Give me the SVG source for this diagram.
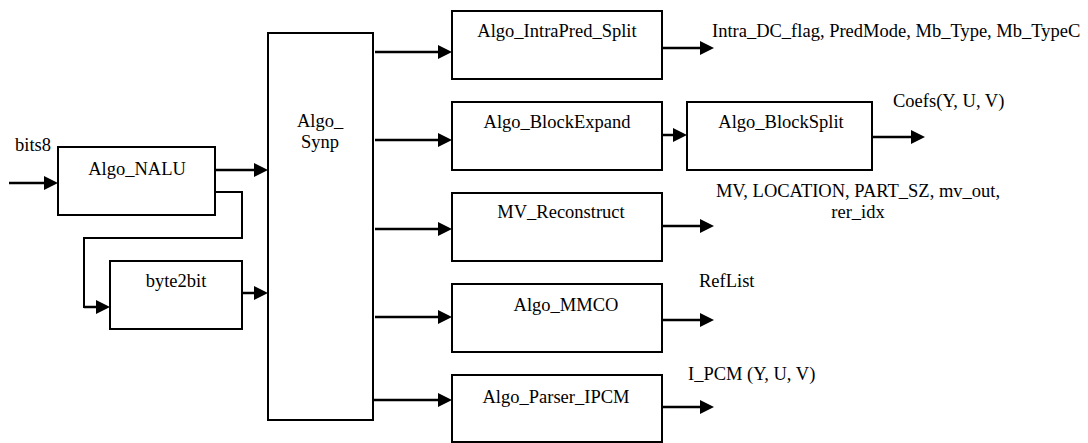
<svg xmlns="http://www.w3.org/2000/svg" width="1088" height="443" viewBox="0 0 1088 443">
<style>
.box{fill:#fff;stroke:#000;stroke-width:2}
.t{font-family:'Liberation Serif','Times New Roman','DejaVu Serif',serif;font-size:18.5px;fill:#000}
.c{text-anchor:middle}
.a{fill:none;stroke:#000;stroke-width:2.5;marker-end:url(#ah)}
.w{fill:none;stroke:#000;stroke-width:2}
</style>
<defs>
<marker id="ah" markerUnits="userSpaceOnUse" markerWidth="14" markerHeight="14" refX="2" refY="7" orient="auto">
<path d="M0,0 L14,7 L0,14 z" fill="#000"/>
</marker>
</defs>
<rect width="1088" height="443" fill="#fff"/>
<g id="connectors">
<path class="a" d="M9,183 H46"/>
<path class="a" d="M215,170 H256"/>
<path class="w" d="M215,192 H242 V238 H84 V307 H96"/>
<path class="a" d="M84,307 H98"/>
<path class="a" d="M242,293 H256"/>
<path class="a" d="M375,52 H440"/>
<path class="a" d="M375,140 H440"/>
<path class="a" d="M375,229 H440"/>
<path class="a" d="M375,317 H440"/>
<path class="a" d="M373,400 H440"/>
<path class="a" d="M662,135 H675"/>
<path class="a" d="M662,48 H702"/>
<path class="a" d="M872,137 H913"/>
<path class="a" d="M662,226 H702"/>
<path class="a" d="M662,320 H702"/>
<path class="a" d="M662,407 H702"/>
</g>
<g id="labels">
<text class="t" x="15" y="151">bits8</text>
<text class="t" x="712" y="37">Intra_DC_flag, PredMode, Mb_Type, Mb_TypeC</text>
<text class="t" x="893" y="107">Coefs(Y, U, V)</text>
<text class="t c" x="858" y="197">MV, LOCATION, PART_SZ, mv_out,</text>
<text class="t c" x="858" y="218">rer_idx</text>
<text class="t" x="699" y="287">RefList</text>
<text class="t" x="688" y="380">I_PCM (Y, U, V)</text>
</g>
<g id="nalu"><rect class="box" x="58" y="147" width="157" height="68"/><text class="t c" x="137" y="175">Algo_NALU</text></g>
<g id="byte2bit"><rect class="box" x="110" y="261" width="132" height="68"/><text class="t c" x="176" y="287">byte2bit</text></g>
<g id="synp"><rect class="box" x="268" y="33" width="105" height="387"/><text class="t c" x="320" y="127">Algo_</text><text class="t c" x="320" y="148">Synp</text></g>
<g id="intrapred"><rect class="box" x="452" y="11" width="210" height="68"/><text class="t c" x="557" y="37">Algo_IntraPred_Split</text></g>
<g id="blockexpand"><rect class="box" x="452" y="102" width="210" height="68"/><text class="t c" x="557" y="128">Algo_BlockExpand</text></g>
<g id="blocksplit"><rect class="box" x="687" y="102" width="185" height="68"/><text class="t c" x="781" y="128">Algo_BlockSplit</text></g>
<g id="mvrecon"><rect class="box" x="452" y="193" width="210" height="68"/><text class="t c" x="561" y="218">MV_Reconstruct</text></g>
<g id="mmco"><rect class="box" x="452" y="284" width="210" height="68"/><text class="t c" x="566" y="311">Algo_MMCO</text></g>
<g id="ipcm"><rect class="box" x="452" y="375" width="210" height="67"/><text class="t c" x="556" y="403">Algo_Parser_IPCM</text></g>
</svg>
